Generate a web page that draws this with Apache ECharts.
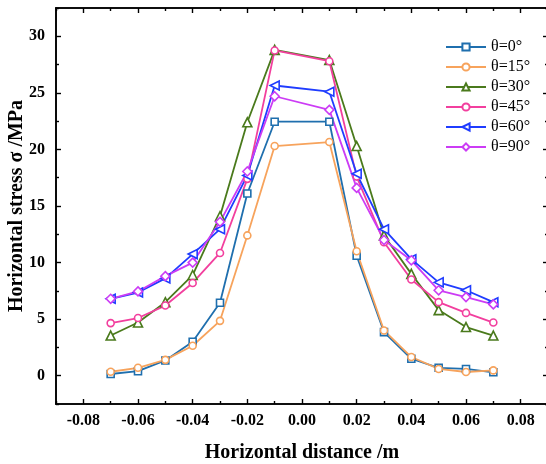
<!doctype html>
<html>
<head>
<meta charset="utf-8">
<script src="https://cdn.jsdelivr.net/npm/echarts@6/dist/echarts.min.js"></script>
<style>
  html, body { margin: 0; padding: 0; background: #fff; }
  #main { width: 546px; height: 464px; }
</style>
</head>
<body>
<div id="main"></div>
<script type="text/javascript">
// horizontal positions (m)
var xs = [-0.07, -0.06, -0.05, -0.04, -0.03, -0.02, -0.01, 0.01, 0.02, 0.03, 0.04, 0.05, 0.06, 0.07];
// stress values (MPa) for each angle
var t0  = [0.15, 0.4, 1.35, 3.0, 6.45, 16.1, 22.45, 22.45, 10.6, 3.85, 1.5, 0.7, 0.6, 0.3];
var t15 = [0.35, 0.7, 1.4, 2.65, 4.85, 12.4, 20.3, 20.65, 11.0, 4.0, 1.65, 0.6, 0.33, 0.47];
var t30 = [3.55, 4.7, 6.5, 8.9, 14.1, 22.4, 28.8, 27.9, 20.3, 12.4, 9.0, 5.8, 4.3, 3.55];
var t45 = [4.65, 5.1, 6.2, 8.2, 10.85, 17.4, 28.75, 27.8, 17.6, 11.8, 8.5, 6.5, 5.55, 4.7];
var t60 = [6.8, 7.35, 8.6, 10.75, 12.95, 17.7, 25.65, 25.1, 17.85, 12.95, 10.3, 8.25, 7.55, 6.5];
var t90 = [6.8, 7.45, 8.8, 10.0, 13.6, 18.05, 24.7, 23.5, 16.6, 12.0, 10.2, 7.55, 6.95, 6.3];
var names = ['θ=0°', 'θ=15°', 'θ=30°', 'θ=45°', 'θ=60°', 'θ=90°'];

// tick labels
var xTicks = [-0.08, -0.06, -0.04, -0.02, 0, 0.02, 0.04, 0.06, 0.08];
var xMinor = [-0.09, -0.07, -0.05, -0.03, -0.01, 0.01, 0.03, 0.05, 0.07, 0.09];
var yTicks = [0, 5, 10, 15, 20, 25, 30];
var yMinor = [-2.5, 2.5, 7.5, 12.5, 17.5, 22.5, 27.5, 32.5];

var serif = '"Liberation Serif", "Times New Roman", serif';

function pairs(v) {
    return xs.map(function (x, i) { return [x, v[i]]; });
}

function mkSeries(name, vals, color, symbol, size, rot) {
    return {
        name: name,
        type: 'line',
        xAxisIndex: 0,
        yAxisIndex: 0,
        data: pairs(vals),
        symbol: symbol,
        symbolSize: size,
        symbolRotate: rot || 0,
        showAllSymbol: true,
        lineStyle: { color: color, width: 1.8 },
        itemStyle: { color: '#fff', borderColor: color, borderWidth: 1.6 },
        emphasis: { disabled: true },
        z: 3
    };
}

function xAxisOf(pos, ticks, len, labels) {
    return {
        type: 'value', position: pos, min: -0.09, max: 0.09,
        axisLine: { show: true, onZero: false, lineStyle: { color: '#000', width: 1.6 } },
        axisTick: { show: true, inside: true, length: len, customValues: ticks, lineStyle: { color: '#000', width: 1.4 } },
        axisLabel: { show: labels, customValues: ticks, margin: 9, color: '#000', fontFamily: serif, fontWeight: 'bold', fontSize: 16,
            formatter: function (v) { return v.toFixed(2); } },
        splitLine: { show: false }
    };
}

function yAxisOf(pos, ticks, len, labels) {
    return {
        type: 'value', position: pos, min: -2.5, max: 32.5,
        axisLine: { show: true, onZero: false, lineStyle: { color: '#000', width: 1.6 } },
        axisTick: { show: true, inside: true, length: len, customValues: ticks, lineStyle: { color: '#000', width: 1.4 } },
        axisLabel: { show: labels, customValues: ticks, margin: 11, color: '#000', fontFamily: serif, fontWeight: 'bold', fontSize: 16 },
        splitLine: { show: false }
    };
}

var myChart = echarts.init(document.getElementById('main'), null, { renderer: 'canvas' });

var xMain = xAxisOf('bottom', xTicks, 5, true);
xMain.name = 'Horizontal distance /m';
xMain.nameLocation = 'middle';
xMain.nameGap = 39;
xMain.nameMoveOverlap = false;
xMain.nameTextStyle = { color: '#000', fontFamily: serif, fontWeight: 'bold', fontSize: 20 };

var yMain = yAxisOf('left', yTicks, 5, true);
yMain.name = 'Horizontal stress σ /MPa';
yMain.nameLocation = 'middle';
yMain.nameGap = 29;
yMain.nameMoveOverlap = false;
yMain.nameTextStyle = { color: '#000', fontFamily: serif, fontWeight: 'bold', fontSize: 20 };

var option = {
    animation: false,
    backgroundColor: '#fff',
    grid: { left: 56, top: 8, width: 492, height: 396, containLabel: false, outerBoundsMode: 'none' },
    legend: {
        orient: 'vertical',
        left: 440,
        top: 34,
        itemWidth: 40,
        itemHeight: 9,
        itemGap: 4,
        textStyle: { color: '#000', fontFamily: serif, fontSize: 16 },
        data: names
    },
    xAxis: [
        xMain,
        xAxisOf('bottom', xMinor, 3, false),
        xAxisOf('top', xTicks, 5, false),
        xAxisOf('top', xMinor, 3, false)
    ],
    yAxis: [
        yMain,
        yAxisOf('left', yMinor, 3, false),
        yAxisOf('right', yTicks, 5, false),
        yAxisOf('right', yMinor, 3, false)
    ],
    series: [
        mkSeries(names[0], t0, '#1f6fae', 'rect', 7),
        mkSeries(names[1], t15, '#f7a35c', 'circle', 7),
        mkSeries(names[2], t30, '#4a7a1c', 'triangle', 9),
        mkSeries(names[3], t45, '#f23f9e', 'circle', 7),
        mkSeries(names[4], t60, '#1f3cff', 'triangle', 9, 90),
        mkSeries(names[5], t90, '#cc3cf5', 'diamond', 9)
    ]
};
myChart.setOption(option);
</script>
</body>
</html>
